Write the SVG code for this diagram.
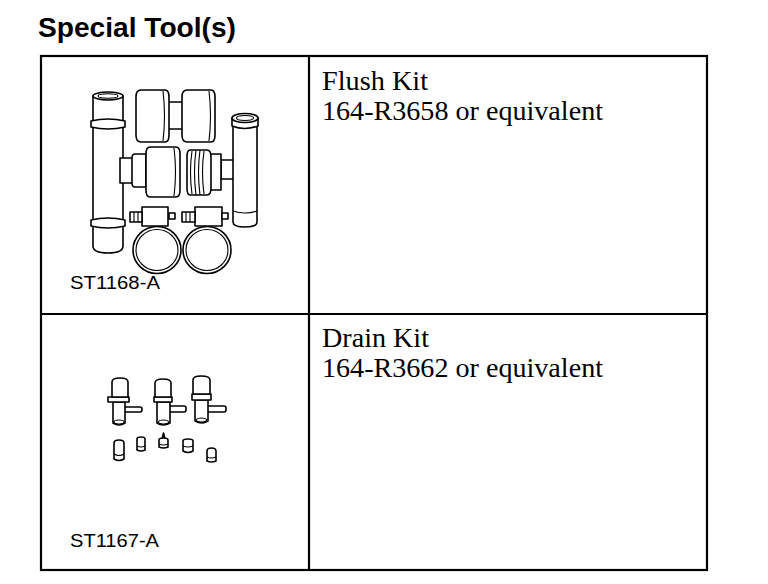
<svg xmlns="http://www.w3.org/2000/svg" width="768" height="584" viewBox="0 0 768 584">
<style>
.title{font-family:"Liberation Sans",Arial,sans-serif;font-weight:bold;font-size:28px;fill:#000}
.desc{font-family:"Liberation Serif","Times New Roman",serif;font-size:28px;fill:#000}
.code{font-family:"Liberation Sans",Arial,sans-serif;font-size:18px;fill:#000}
.grid{fill:none;stroke:#000;stroke-width:2.2}
.ill{fill:#fff;stroke:#000;stroke-width:1.6;stroke-linejoin:round}
.thin{fill:none;stroke:#000;stroke-width:1.1}
</style>
<rect width="768" height="584" fill="#fff"/>
<text class="title" x="38" y="37" textLength="198" lengthAdjust="spacingAndGlyphs">Special Tool(s)</text>

<g id="table">
<rect class="grid" x="41" y="56" width="666" height="514"/>
<line class="grid" x1="309" y1="56" x2="309" y2="570"/>
<line class="grid" x1="41" y1="314" x2="707" y2="314"/>
</g>

<g id="flush-kit">
<g id="flush-illustration">
<!-- left tall tube -->
<path class="ill" d="M93,96 L93,246 Q93,253 108,253 Q123,253 123,246 L123,96 Z"/>
<ellipse class="ill" cx="108" cy="96" rx="15" ry="4"/>
<ellipse class="thin" cx="108" cy="96" rx="10" ry="2.2"/>
<path class="ill" d="M91,121 Q108,117 125,121 L125,127 Q108,131 91,127 Z"/>
<path class="ill" d="M91,220 Q108,216 125,220 L125,226 Q108,230 91,226 Z"/>
<!-- top rollers -->
<rect class="ill" x="168" y="102" width="15" height="27"/>
<path class="ill" d="M141,90 L165,90 Q169,90 169,97 L169,135 Q169,142 165,142 L141,142 Q136,142 136,135 L136,97 Q136,90 141,90 Z"/>
<path class="thin" d="M163,91 Q166,116 163,141"/>
<path class="ill" d="M187,90 L211,90 Q215,90 215,97 L215,135 Q215,142 211,142 L187,142 Q182,142 182,135 L182,97 Q182,90 187,90 Z"/>
<path class="thin" d="M209,91 Q212,116 209,141"/>
<!-- middle left piece -->
<rect class="ill" x="120" y="158" width="13" height="25"/>
<path class="ill" d="M135,154 L146,154 L146,187 L135,187 Q132,187 132,183 L132,158 Q132,154 135,154 Z"/>
<path class="ill" d="M150,147 L176,147 Q180,147 180,154 L180,190 Q180,197 176,197 L150,197 Q146,197 146,190 L146,154 Q146,147 150,147 Z"/>
<path class="thin" d="M174,148 Q177,172 174,196"/>
<!-- middle right ribbed piece -->
<rect class="ill" x="221" y="160" width="13" height="19"/>
<path class="ill" d="M210,154 L221,154 L221,190 L210,190 Z"/>
<path class="ill" d="M190,150 L207,150 Q211,150 211,157 L211,188 Q211,195 207,195 L190,195 Q187,195 187,188 L187,157 Q187,150 190,150 Z"/>
<path class="thin" d="M192,151 Q189,172 192,194 M196,150 Q193,172 196,195 M200,150 Q197,172 200,195 M204,151 Q201,172 204,194"/>
<!-- right tube -->
<path class="ill" d="M233,119 L233,222 Q233,227 245,227 Q257,227 257,222 L257,119 Z"/>
<path class="ill" d="M232,118 L232,126 Q245,131 258,126 L258,118 Z"/>
<ellipse class="ill" cx="245" cy="118" rx="13" ry="4.5"/>
<ellipse class="thin" cx="245" cy="118" rx="8.5" ry="2.5"/>
<path class="thin" d="M233,211 Q245,215 257,211"/>
<!-- clamps -->
<ellipse class="ill" cx="157" cy="250" rx="24" ry="23.5"/>
<ellipse class="thin" cx="157" cy="250" rx="21" ry="20.5"/>
<rect class="ill" x="142" y="207" width="26" height="19"/>
<rect class="ill" x="130" y="212" width="12" height="10"/>
<path class="thin" d="M134,212 L134,222 M138,212 L138,222"/>
<rect class="ill" x="169" y="213" width="6" height="6"/>
<ellipse class="ill" cx="207" cy="250" rx="24" ry="23.5"/>
<ellipse class="thin" cx="207" cy="250" rx="21" ry="20.5"/>
<rect class="ill" x="195" y="207" width="27" height="19"/>
<rect class="ill" x="182" y="212" width="13" height="10"/>
<path class="thin" d="M186,212 L186,222 M190,212 L190,222"/>
<rect class="ill" x="222" y="213" width="6" height="6"/>
</g>
<text class="code" x="70" y="289" textLength="90" lengthAdjust="spacingAndGlyphs">ST1168-A</text>
<text class="desc" x="322" y="90" textLength="106" lengthAdjust="spacingAndGlyphs">Flush Kit</text>
<text class="desc" x="322" y="120" textLength="281" lengthAdjust="spacingAndGlyphs">164-R3658 or equivalent</text>
</g>

<g id="drain-kit">
<g id="drain-illustration">
<!-- fitting 1 -->
<rect class="ill" x="124" y="407" width="18" height="5" rx="2"/>
<path class="ill" d="M113,402 L113,423 Q119,427 125,423 L125,402 Z"/>
<ellipse class="thin" cx="119" cy="422" rx="5" ry="2"/>
<path class="ill" d="M108,397 L129,397 L129,402 L108,402 Z"/>
<path class="ill" d="M112,397 L112,382 Q112,378 120,378 Q128,378 128,382 L128,397 Z"/>
<!-- fitting 2 -->
<rect class="ill" x="169" y="406" width="17" height="6" rx="2"/>
<path class="ill" d="M157,402 L157,423 Q163,427 170,423 L170,402 Z"/>
<ellipse class="thin" cx="163.5" cy="422" rx="5" ry="2"/>
<path class="ill" d="M154,397 L172,397 L172,402 L154,402 Z"/>
<path class="ill" d="M155,397 L155,383 Q155,379 163,379 Q171,379 171,383 L171,397 Z"/>
<!-- fitting 3 -->
<rect class="ill" x="207" y="406" width="19" height="6" rx="2"/>
<path class="ill" d="M195,400 L195,421 Q202,425 208,421 L208,400 Z"/>
<ellipse class="thin" cx="201.5" cy="420" rx="5" ry="2"/>
<path class="ill" d="M192,394 L211,394 L211,400 L192,400 Z"/>
<path class="ill" d="M193,394 L193,380 Q193,376 201,376 Q210,376 210,380 L210,394 Z"/>
<!-- caps -->
<path class="ill" d="M114,443 Q114,440 119,440 Q124,440 124,443 L124,459 Q119,462 114,459 Z"/>
<path class="thin" d="M114,454 Q119,457 124,454"/>
<path class="ill" d="M137,439 Q137,437 141,437 Q145,437 145,439 L145,450 Q141,452 137,450 Z"/>
<path class="thin" d="M137,446 Q141,448 145,446"/>
<path class="ill" d="M162,439 L163.5,433 L165,439 Z"/>
<path class="ill" d="M159,440 Q159,438 163.5,438 Q168,438 168,440 L168,447 Q163.5,449 159,447 Z"/>
<path class="thin" d="M159,444 Q163.5,446 168,444"/>
<path class="ill" d="M183,441 Q183,439 188,439 Q193,439 193,441 L193,451 Q188,454 183,451 Z"/>
<path class="thin" d="M183,446 Q188,448 193,446"/>
<path class="ill" d="M207,451 Q207,448 211.5,448 Q216,448 216,451 L216,461 Q211.5,463 207,461 Z"/>
<path class="thin" d="M207,457 Q211.5,459 216,457"/>
</g>
<text class="code" x="70" y="547" textLength="89" lengthAdjust="spacingAndGlyphs">ST1167-A</text>
<text class="desc" x="322" y="347" textLength="107" lengthAdjust="spacingAndGlyphs">Drain Kit</text>
<text class="desc" x="322" y="377" textLength="281" lengthAdjust="spacingAndGlyphs">164-R3662 or equivalent</text>
</g>
</svg>
